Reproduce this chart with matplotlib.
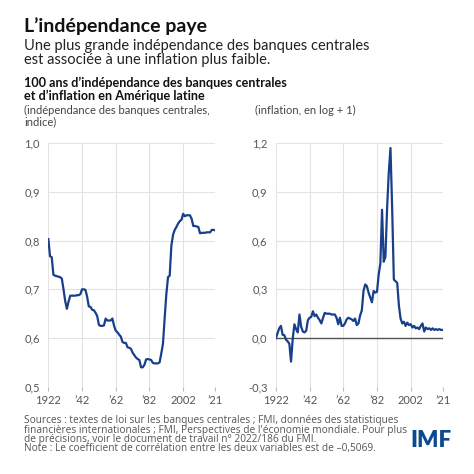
import numpy as np
import matplotlib
matplotlib.use("Agg")
import matplotlib.pyplot as plt

plt.rcParams['font.family'] = ['Lato', 'DejaVu Sans']

years = np.arange(1922, 2022)

# central bank independence index (left panel)
cbi = [
    0.803, 0.768, 0.766, 0.730, 0.728, 0.727, 0.726, 0.725, 0.722, 0.700,
    0.676, 0.660, 0.675, 0.687, 0.687, 0.687, 0.687, 0.688, 0.688, 0.690,
    0.700, 0.700, 0.699, 0.685, 0.665, 0.664, 0.658, 0.657, 0.652, 0.645,
    0.627, 0.625, 0.625, 0.626, 0.640, 0.636, 0.636, 0.636, 0.640, 0.625,
    0.615, 0.612, 0.607, 0.603, 0.592, 0.590, 0.590, 0.581, 0.580, 0.578,
    0.570, 0.565, 0.560, 0.557, 0.555, 0.540, 0.540, 0.545, 0.556, 0.557,
    0.556, 0.555, 0.549, 0.548, 0.548, 0.548, 0.550, 0.568, 0.588, 0.640,
    0.690, 0.725, 0.728, 0.790, 0.812, 0.822, 0.828, 0.835, 0.840, 0.843,
    0.855, 0.850, 0.852, 0.852, 0.852, 0.845, 0.830, 0.830, 0.829, 0.828,
    0.815, 0.816, 0.816, 0.816, 0.817, 0.817, 0.817, 0.822, 0.822, 0.821,
]

# inflation, log + 1 (right panel)
infl = [
    0.000, 0.030, 0.060, 0.075, 0.020, 0.018, -0.010, -0.020, -0.035, -0.145,
    -0.005, 0.085, 0.055, 0.035, 0.145, 0.070, 0.040, 0.035, 0.045, 0.110,
    0.125, 0.130, 0.165, 0.135, 0.145, 0.125, 0.110, 0.090, 0.125, 0.155,
    0.150, 0.150, 0.150, 0.145, 0.145, 0.145, 0.125, 0.085, 0.125, 0.075,
    0.075, 0.090, 0.115, 0.125, 0.120, 0.115, 0.105, 0.120, 0.080, 0.090,
    0.140, 0.170, 0.290, 0.330, 0.320, 0.280, 0.250, 0.220, 0.290, 0.280,
    0.285, 0.390, 0.460, 0.790, 0.470, 0.500, 0.800, 1.020, 1.170, 0.800,
    0.360, 0.350, 0.340, 0.200, 0.120, 0.090, 0.100, 0.075, 0.095, 0.080,
    0.085, 0.065, 0.075, 0.060, 0.065, 0.055, 0.075, 0.090, 0.040, 0.065,
    0.055, 0.060, 0.050, 0.060, 0.050, 0.055, 0.050, 0.055, 0.050, 0.050,
]

xticks = [1922, 1942, 1962, 1982, 2002, 2021]
xticklabels = ["1922", "\u201942", "\u201962", "\u201982", "2002", "\u201921"]
left_yticks = [0.5, 0.6, 0.7, 0.8, 0.9, 1.0]
right_yticks = [-0.3, 0.0, 0.3, 0.6, 0.9, 1.2]

line_color = '#173f8a'
grid_color = '#e3e3e3'
tick_color = '#555555'

fig = plt.figure(figsize=(4.74, 4.74), dpi=100)

ax1 = fig.add_axes([0.102, 0.184, 0.352, 0.514])
ax2 = fig.add_axes([0.582, 0.184, 0.352, 0.514])


def style(ax, yticks, fmt):
    ax.set_xlim(1922, 2021)
    ax.set_ylim(yticks[0], yticks[-1])
    ax.set_xticks(xticks)
    ax.set_xticklabels(xticklabels)
    ax.set_yticks(yticks)
    ax.set_yticklabels([fmt(v) for v in yticks])
    for s in ax.spines.values():
        s.set_visible(False)
    ax.grid(True, color=grid_color, linewidth=0.8)
    ax.set_axisbelow(True)
    ax.tick_params(axis='y', length=0, pad=6, labelsize=8, labelcolor=tick_color)
    ax.tick_params(axis='x', length=3, color='#bbbbbb', width=0.8, pad=3,
                   labelsize=8, labelcolor=tick_color)


style(ax1, left_yticks, lambda v: f"{v:.1f}".replace('.', ','))
style(ax2, right_yticks, lambda v: f"{v:.1f}".replace('.', ','))

ax1.plot(years, cbi, color=line_color, linewidth=1.6)
ax2.axhline(0, color='#555555', linewidth=1.0)
ax2.plot(years, infl, color=line_color, linewidth=1.6)

# Texts
fig.text(0.051, 0.945, "L\u2019indépendance paye", fontsize=14, fontweight='bold',
         color='#111111', va='center')
fig.text(0.051, 0.888, "Une plus grande indépendance des banques centrales\n"
         "est associée à une inflation plus faible.",
         fontsize=10.5, color='#222222', va='center', linespacing=1.0)
fig.text(0.051, 0.812, "100 ans d\u2019indépendance des banques centrales\n"
         "et d\u2019inflation en Amérique latine",
         fontsize=9.1, fontweight='bold', color='#111111', va='center', linespacing=1.1)
fig.text(0.051, 0.778, "(indépendance des banques centrales,\nindice)",
         fontsize=8, color='#444444', va='top', linespacing=1.05)
fig.text(0.538, 0.778, "(inflation, en log + 1)",
         fontsize=8, color='#444444', va='top')

source_lines = [
    "Sources : textes de loi sur les banques centrales ; FMI, données des statistiques",
    "financières internationales ; FMI, Perspectives de l'économie mondiale. Pour plus",
    "de précisions, voir le document de travail n\u00b0 2022/186 du FMI.",
    "Note : Le coefficient de corrélation entre les deux variables est de \u20130,5069.",
]
fig.text(0.051, 0.124, "\n".join(source_lines), fontsize=7.3, color='#555555',
         va='top', linespacing=0.8, family=['Open Sans', 'DejaVu Sans'])
fig.text(0.953, 0.07, "IMF", fontsize=16, fontweight='heavy', color='#0b4a8f',
         ha='right', va='center')

fig.savefig("out.png", dpi=100, facecolor='white')
